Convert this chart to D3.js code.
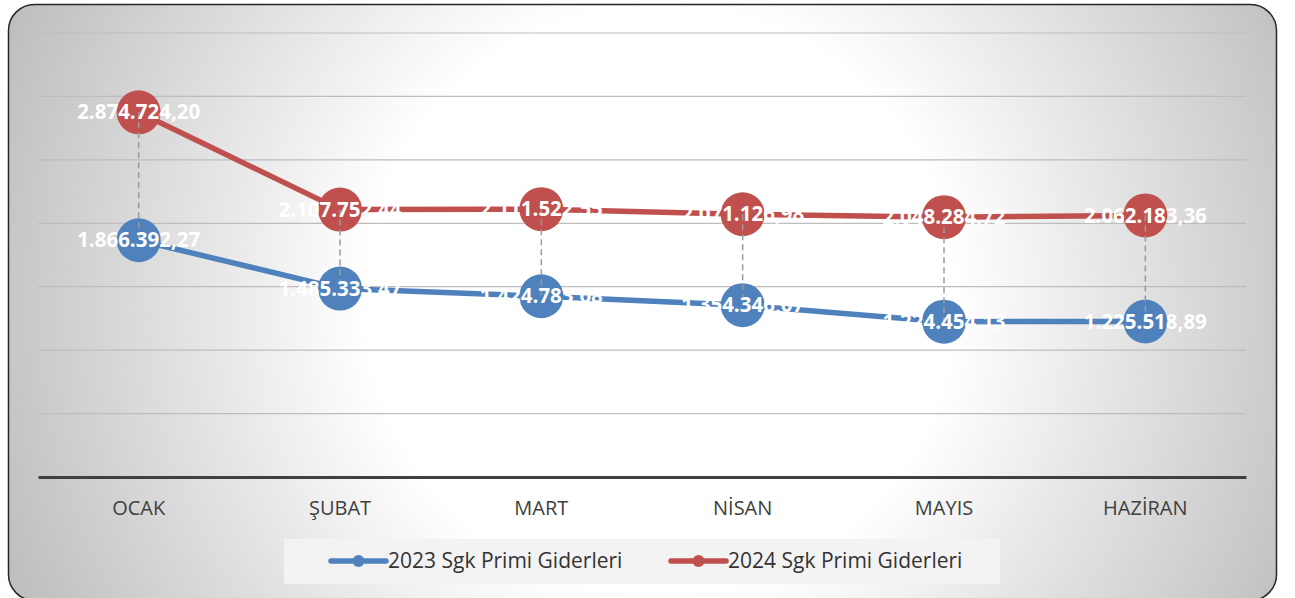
<!DOCTYPE html>
<html><head><meta charset="utf-8">
<script src="https://cdn.jsdelivr.net/npm/d3@7/dist/d3.min.js"></script>
<style>body{margin:0;background:#fff;}svg{display:block;}</style>
</head><body>
<script>
const categories = ["OCAK","ŞUBAT","MART","NİSAN","MAYIS","HAZİRAN"];
const values2023 = [1866392.27,1485333.47,1424783.08,1354346.07,1224454.13,1225518.89];
const values2024 = [2874724.20,2107752.44,2111522.55,2071126.98,2048284.72,2062183.36];
const seriesNames = ["2023 Sgk Primi Giderleri","2024 Sgk Primi Giderleri"];
const yTicks = [0,500000,1000000,1500000,2000000,2500000,3000000,3500000];

const W=1295,H=598;
const colors=["#4F81BD","#C0504D"];
const svg=d3.select("body").append("svg").attr("width",W).attr("height",H);
const defs=svg.append("defs");
const rg=defs.append("radialGradient").attr("id","bg").attr("gradientUnits","userSpaceOnUse")
  .attr("cx",660).attr("cy",300).attr("r",700);
rg.append("stop").attr("offset","0").attr("stop-color","#ffffff");
rg.append("stop").attr("offset","0.42").attr("stop-color","#ffffff");
rg.append("stop").attr("offset","1").attr("stop-color","#bfbfbf");
svg.append("rect").attr("x",8.5).attr("y",4.5).attr("width",1268).attr("height",596)
  .attr("rx",26).attr("fill","url(#bg)").attr("stroke","#262626").attr("stroke-width",1.5);

const x=d3.scaleBand().domain(categories).range([38,1246]);
const y=d3.scaleLinear().domain([0,3500000]).range([477,33]);
const cx=d=>x(d)+x.bandwidth()/2;

// gridlines
svg.append("g").selectAll("line").data(yTicks.slice(1)).join("line")
  .attr("x1",38).attr("x2",1246).attr("y1",d=>y(d)).attr("y2",d=>y(d))
  .attr("stroke","#bdbdbd").attr("stroke-width",1.2);
// axis
const xa=svg.append("g").attr("transform","translate(0,477)")
  .call(d3.axisBottom(x).tickSize(0).tickPadding(31));
xa.select(".domain").attr("stroke","#404040").attr("stroke-width",3);
xa.selectAll("text").attr("font-family","'Open Sans',sans-serif").attr("font-size",20)
  .attr("fill","#404040").attr("dy","0.35em");

const series=[values2023,values2024];
const line=d3.line().x((d,i)=>cx(categories[i])).y(d=>y(d));
series.forEach((s,k)=>{
  svg.append("path").datum(s).attr("d",line).attr("fill","none")
    .attr("stroke",colors[k]).attr("stroke-width",5.5).attr("stroke-linejoin","round");
});
series.forEach((s,k)=>{
  svg.append("g").selectAll("circle").data(s).join("circle")
    .attr("cx",(d,i)=>cx(categories[i])).attr("cy",d=>y(d)).attr("r",22)
    .attr("fill",colors[k]);
});
// drop lines
svg.append("g").selectAll("line").data(categories).join("line")
  .attr("x1",d=>cx(d)).attr("x2",d=>cx(d))
  .attr("y1",(d,i)=>y(values2024[i])).attr("y2",(d,i)=>y(values2023[i]))
  .attr("stroke","#9a9a9a").attr("stroke-width",1.5).attr("stroke-dasharray","6,4");

const fmt=v=>{const p=v.toFixed(2).split(".");return p[0].replace(/\B(?=(\d{3})+(?!\d))/g,".")+","+p[1];};
series.forEach((s,k)=>{
  svg.append("g").selectAll("text").data(s).join("text")
    .attr("x",(d,i)=>cx(categories[i])).attr("y",d=>y(d)).attr("dy","0.35em")
    .attr("text-anchor","middle").attr("font-family","'Open Sans',sans-serif")
    .attr("font-weight","bold").attr("font-size",20.5).attr("fill","#fff")
    .text(d=>fmt(d));
});

// legend
const lg=svg.append("g");
lg.append("rect").attr("x",284).attr("y",539).attr("width",716).attr("height",45).attr("fill","#f3f3f3");
const lx=[331,671];
seriesNames.forEach((n,k)=>{
  const g=lg.append("g").attr("transform",`translate(${lx[k]},561)`);
  g.append("line").attr("x1",0).attr("x2",55).attr("stroke",colors[k]).attr("stroke-width",5.5).attr("stroke-linecap","round");
  g.append("circle").attr("cx",27.5).attr("r",6).attr("fill",colors[k]);
  g.append("text").attr("x",57).attr("dy","0.35em").attr("font-family","'Open Sans',sans-serif")
    .attr("font-size",21).attr("fill","#333333").text(n);
});
</script>
</body></html>
